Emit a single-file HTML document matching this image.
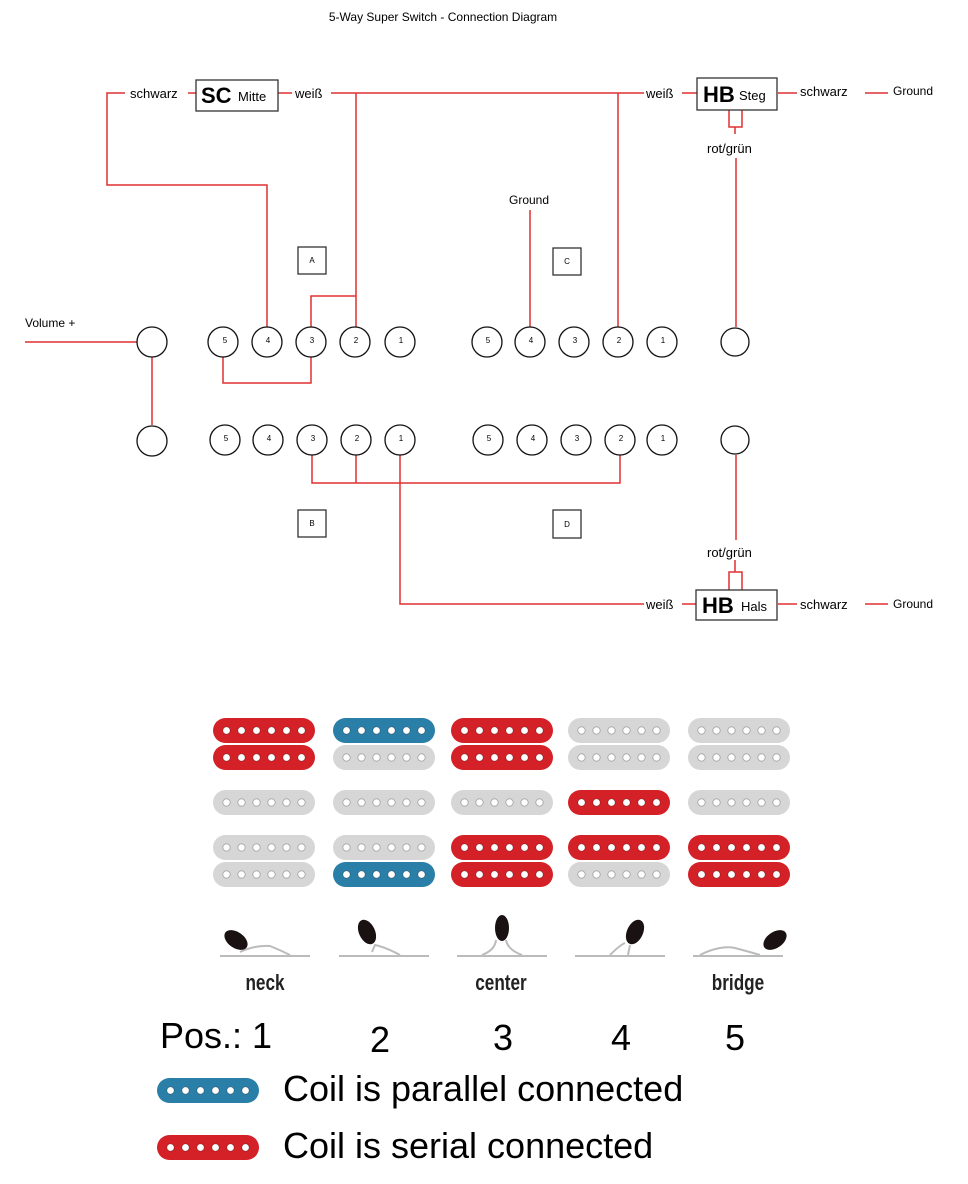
<!DOCTYPE html>
<html><head><meta charset="utf-8"><style>
html,body{margin:0;padding:0;background:#fff;}
svg{display:block;}
text{font-family:"Liberation Sans",sans-serif;}
</style></head><body>
<svg width="968" height="1184" viewBox="0 0 968 1184" xmlns="http://www.w3.org/2000/svg">
<defs>
<symbol id="pu" viewBox="0 0 102 25" overflow="visible">
<rect x="0" y="0" width="102" height="25" rx="12.5" fill="currentColor"/>
<g fill="#fff" stroke="rgba(0,0,0,0.25)" stroke-width="1">
<circle cx="13.5" cy="12.5" r="3.6"/><circle cx="28.5" cy="12.5" r="3.6"/><circle cx="43.5" cy="12.5" r="3.6"/>
<circle cx="58.5" cy="12.5" r="3.6"/><circle cx="73.5" cy="12.5" r="3.6"/><circle cx="88.5" cy="12.5" r="3.6"/>
</g>
</symbol>
</defs>
<text x="443" y="21" font-size="12" text-anchor="middle">5-Way Super Switch - Connection Diagram</text>

<g fill="none" stroke="#e03030" stroke-width="1.5">
<polyline points="125,93 107,93 107,185 267,185 267,327"/>
<line x1="188" y1="93" x2="196" y2="93"/>
<line x1="278" y1="93" x2="292" y2="93"/>
<line x1="331" y1="93" x2="644" y2="93"/>
<line x1="682" y1="93" x2="697" y2="93"/>
<polyline points="356,93 356,327"/>
<polyline points="356,296 311,296 311,327"/>
<line x1="618" y1="93" x2="618" y2="327"/>
<line x1="530" y1="210" x2="530" y2="327"/>
<line x1="778" y1="93" x2="797" y2="93"/>
<line x1="865" y1="93" x2="888" y2="93"/>
<polyline points="729,110 729,127 742,127 742,110"/>
<line x1="735" y1="127" x2="735" y2="134"/>
<line x1="736" y1="158" x2="736" y2="327"/>
<line x1="25" y1="342" x2="137" y2="342"/>
<line x1="152" y1="357" x2="152" y2="425"/>
<polyline points="223,357 223,383 311,383 311,357"/>
<polyline points="312,455 312,483 620,483 620,455"/>
<line x1="356" y1="455" x2="356" y2="483"/>
<polyline points="400,455 400,604 644,604"/>
<line x1="682" y1="604" x2="696" y2="604"/>
<line x1="736" y1="455" x2="736" y2="540"/>
<line x1="735" y1="560" x2="735" y2="572"/>
<polyline points="729,590 729,572 742,572 742,590"/>
<line x1="778" y1="604" x2="797" y2="604"/>
<line x1="865" y1="604" x2="888" y2="604"/>
</g>

<g font-size="13">
<text x="130" y="98">schwarz</text>
<text x="295" y="98">weiß</text>
<text x="646" y="98">weiß</text>
<text x="800" y="96">schwarz</text>
<text x="893" y="95" font-size="12">Ground</text>
<text x="707" y="153">rot/grün</text>
<text x="509" y="204" font-size="12">Ground</text>
<text x="25" y="327" font-size="12">Volume +</text>
<text x="707" y="557">rot/grün</text>
<text x="646" y="609">weiß</text>
<text x="800" y="609">schwarz</text>
<text x="893" y="608" font-size="12">Ground</text>
</g>

<g fill="#fff" stroke="#333" stroke-width="1.3">
<rect x="196" y="80" width="82" height="31"/>
<rect x="697" y="78" width="80" height="32"/>
<rect x="696" y="590" width="81" height="30"/>
<rect x="298" y="247" width="28" height="27"/>
<rect x="553" y="248" width="28" height="27"/>
<rect x="298" y="510" width="28" height="27"/>
<rect x="553" y="510" width="28" height="28"/>
</g>
<text x="201" y="103" font-size="22" font-weight="bold">SC</text>
<text x="238" y="101" font-size="13">Mitte</text>
<text x="703" y="102" font-size="22" font-weight="bold">HB</text>
<text x="739" y="100" font-size="13">Steg</text>
<text x="702" y="613" font-size="22" font-weight="bold">HB</text>
<text x="741" y="611" font-size="13">Hals</text>
<g font-size="8" text-anchor="middle">
<text x="312" y="263">A</text><text x="567" y="264">C</text>
<text x="312" y="526">B</text><text x="567" y="527">D</text>
</g>

<g fill="#fff" stroke="#111" stroke-width="1.3">
<circle cx="152" cy="342" r="15"/><circle cx="152" cy="441" r="15"/>
<circle cx="735" cy="342" r="14"/><circle cx="735" cy="440" r="14"/>
<circle cx="223" cy="342" r="15"/><circle cx="267" cy="342" r="15"/><circle cx="311" cy="342" r="15"/><circle cx="355" cy="342" r="15"/><circle cx="400" cy="342" r="15"/>
<circle cx="487" cy="342" r="15"/><circle cx="530" cy="342" r="15"/><circle cx="574" cy="342" r="15"/><circle cx="618" cy="342" r="15"/><circle cx="662" cy="342" r="15"/>
<circle cx="225" cy="440" r="15"/><circle cx="268" cy="440" r="15"/><circle cx="312" cy="440" r="15"/><circle cx="356" cy="440" r="15"/><circle cx="400" cy="440" r="15"/>
<circle cx="488" cy="440" r="15"/><circle cx="532" cy="440" r="15"/><circle cx="576" cy="440" r="15"/><circle cx="620" cy="440" r="15"/><circle cx="662" cy="440" r="15"/>
</g>
<g font-size="8" text-anchor="middle">
<text x="225" y="343">5</text><text x="268" y="343">4</text><text x="312" y="343">3</text><text x="356" y="343">2</text><text x="401" y="343">1</text>
<text x="488" y="343">5</text><text x="531" y="343">4</text><text x="575" y="343">3</text><text x="619" y="343">2</text><text x="663" y="343">1</text>
<text x="226" y="441">5</text><text x="269" y="441">4</text><text x="313" y="441">3</text><text x="357" y="441">2</text><text x="401" y="441">1</text>
<text x="489" y="441">5</text><text x="533" y="441">4</text><text x="577" y="441">3</text><text x="621" y="441">2</text><text x="663" y="441">1</text>
</g>

<g>
<use href="#pu" x="213" y="718" width="102" height="25" color="#d42027"/>
<use href="#pu" x="213" y="745" width="102" height="25" color="#d42027"/>
<use href="#pu" x="213" y="790" width="102" height="25" color="#d6d6d6"/>
<use href="#pu" x="213" y="835" width="102" height="25" color="#d6d6d6"/>
<use href="#pu" x="213" y="862" width="102" height="25" color="#d6d6d6"/>
<use href="#pu" x="333" y="718" width="102" height="25" color="#2a7fa8"/>
<use href="#pu" x="333" y="745" width="102" height="25" color="#d6d6d6"/>
<use href="#pu" x="333" y="790" width="102" height="25" color="#d6d6d6"/>
<use href="#pu" x="333" y="835" width="102" height="25" color="#d6d6d6"/>
<use href="#pu" x="333" y="862" width="102" height="25" color="#2a7fa8"/>
<use href="#pu" x="451" y="718" width="102" height="25" color="#d42027"/>
<use href="#pu" x="451" y="745" width="102" height="25" color="#d42027"/>
<use href="#pu" x="451" y="790" width="102" height="25" color="#d6d6d6"/>
<use href="#pu" x="451" y="835" width="102" height="25" color="#d42027"/>
<use href="#pu" x="451" y="862" width="102" height="25" color="#d42027"/>
<use href="#pu" x="568" y="718" width="102" height="25" color="#d6d6d6"/>
<use href="#pu" x="568" y="745" width="102" height="25" color="#d6d6d6"/>
<use href="#pu" x="568" y="790" width="102" height="25" color="#d42027"/>
<use href="#pu" x="568" y="835" width="102" height="25" color="#d42027"/>
<use href="#pu" x="568" y="862" width="102" height="25" color="#d6d6d6"/>
<use href="#pu" x="688" y="718" width="102" height="25" color="#d6d6d6"/>
<use href="#pu" x="688" y="745" width="102" height="25" color="#d6d6d6"/>
<use href="#pu" x="688" y="790" width="102" height="25" color="#d6d6d6"/>
<use href="#pu" x="688" y="835" width="102" height="25" color="#d42027"/>
<use href="#pu" x="688" y="862" width="102" height="25" color="#d42027"/>
</g>

<g stroke="#bbb" stroke-width="2" fill="none">
<line x1="220" y1="956" x2="310" y2="956"/>
<line x1="339" y1="956" x2="429" y2="956"/>
<line x1="457" y1="956" x2="547" y2="956"/>
<line x1="575" y1="956" x2="665" y2="956"/>
<line x1="693" y1="956" x2="783" y2="956"/>
<path d="M240,952 Q255,945 270,946 Q280,950 290,955"/>
<path d="M372,952 L375,945 Q385,947 400,955"/>
<path d="M482,955 Q495,950 496,940 M506,940 Q508,950 522,955"/>
<path d="M610,955 Q620,945 625,943 M630,945 L628,955"/>
<path d="M700,955 Q720,945 735,948 Q750,952 760,955"/>
</g>
<g fill="#1a1212">
<ellipse cx="236" cy="940" rx="8" ry="13" transform="rotate(-55 236 940)"/>
<ellipse cx="367" cy="932" rx="8" ry="13" transform="rotate(-25 367 932)"/>
<ellipse cx="502" cy="928" rx="7" ry="13"/>
<ellipse cx="635" cy="932" rx="8" ry="13" transform="rotate(25 635 932)"/>
<ellipse cx="775" cy="940" rx="8" ry="13" transform="rotate(55 775 940)"/>
</g>
<g font-size="22" font-weight="bold" fill="#222" text-anchor="middle">
<text x="265" y="990" transform="translate(265 0) scale(0.78 1) translate(-265 0)">neck</text>
<text x="501" y="990" transform="translate(501 0) scale(0.78 1) translate(-501 0)">center</text>
<text x="738" y="990" transform="translate(738 0) scale(0.78 1) translate(-738 0)">bridge</text>
</g>

<g font-size="36">
<text x="160" y="1048">Pos.: 1</text>
<text x="380" y="1052" text-anchor="middle">2</text>
<text x="503" y="1050" text-anchor="middle">3</text>
<text x="621" y="1050" text-anchor="middle">4</text>
<text x="735" y="1050" text-anchor="middle">5</text>
<text x="283" y="1101">Coil is parallel connected</text>
<text x="283" y="1158">Coil is serial connected</text>
</g>
<use href="#pu" x="157" y="1078" width="102" height="25" color="#2a7fa8"/>
<use href="#pu" x="157" y="1135" width="102" height="25" color="#d42027"/>
</svg>
</body></html>
